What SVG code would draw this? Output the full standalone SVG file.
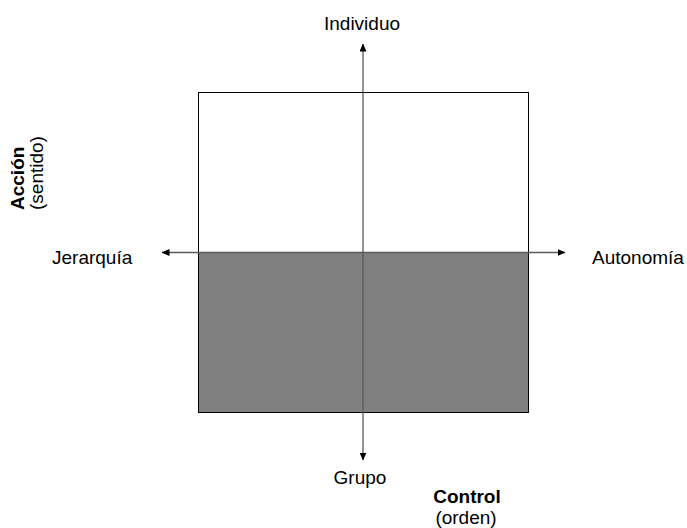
<svg xmlns="http://www.w3.org/2000/svg" width="687" height="528" viewBox="0 0 687 528">
<style>
text{font-family:"Liberation Sans",Arial,sans-serif;font-size:19px;fill:#000}
.b{font-weight:bold}
.ax{stroke:#5a5a5a;stroke-width:1.3;fill:none}
</style>
<defs>
<marker id="ah" markerWidth="8" markerHeight="7" refX="7.5" refY="3.5" orient="auto" markerUnits="userSpaceOnUse">
<path d="M0,0 L8,3.5 L0,7 Z" fill="#000"/>
</marker>
</defs>
<rect width="687" height="528" fill="#fff"/>
<g id="quadrants">
<rect x="198.5" y="92.5" width="330" height="160" fill="#fff" stroke="#000" stroke-width="1"/>
<rect x="198.5" y="252.5" width="330" height="160" fill="#808080" stroke="#000" stroke-width="1"/>
</g>
<g id="connectors">
<line class="ax" x1="363" y1="252.5" x2="363" y2="44" marker-end="url(#ah)"/>
<line class="ax" x1="363" y1="252.5" x2="363" y2="460" marker-end="url(#ah)"/>
<line class="ax" x1="363" y1="252.5" x2="162" y2="252.5" marker-end="url(#ah)"/>
<line class="ax" x1="363" y1="252.5" x2="565" y2="252.5" marker-end="url(#ah)"/>
</g>
<g id="individuo"><text x="362" y="30" text-anchor="middle">Individuo</text></g>
<g id="grupo"><text x="360" y="484" text-anchor="middle">Grupo</text></g>
<g id="jerarquia"><text x="52" y="264">Jerarquía</text></g>
<g id="autonomia"><text x="592" y="264">Autonomía</text></g>
<g id="control"><text x="467" y="503" text-anchor="middle" class="b">Control</text><text x="466" y="524" text-anchor="middle">(orden)</text></g>
<g id="accion"><text transform="translate(24,210) rotate(-90)" class="b">Acción</text><text transform="translate(43,210) rotate(-90)">(sentido)</text></g>
</svg>
